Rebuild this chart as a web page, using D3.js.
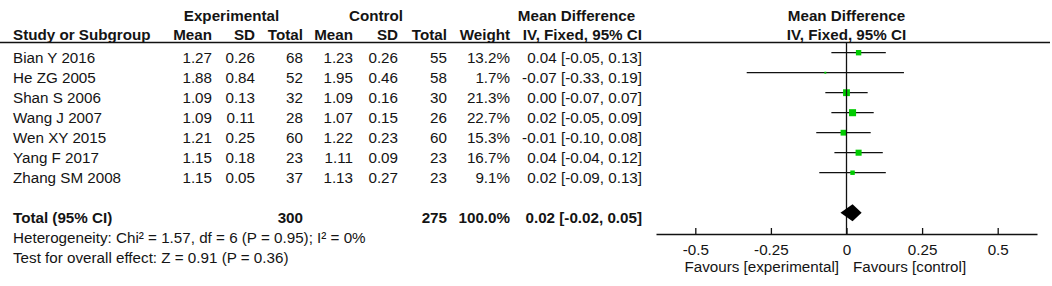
<!DOCTYPE html>
<html>
<head>
<meta charset="utf-8">
<script src="https://cdn.jsdelivr.net/npm/d3@7"></script>
<style>
  body { margin: 0; background: #fff; }
  svg text { font-family: "Liberation Sans", Arial, sans-serif; font-size: 15.2px; fill: #141414; }
</style>
</head>
<body>
<div id="forest"></div>
<script>
// data
const studies   = ["Bian Y 2016", "He ZG 2005", "Shan S 2006", "Wang J 2007", "Wen XY 2015", "Yang F 2017", "Zhang SM 2008"];
const expMean   = [1.27, 1.88, 1.09, 1.09, 1.21, 1.15, 1.15];
const expSD     = [0.26, 0.84, 0.13, 0.11, 0.25, 0.18, 0.05];
const expTotal  = [68, 52, 32, 28, 60, 23, 37];
const ctlMean   = [1.23, 1.95, 1.09, 1.07, 1.22, 1.11, 1.13];
const ctlSD     = [0.26, 0.46, 0.16, 0.15, 0.23, 0.09, 0.27];
const ctlTotal  = [55, 58, 30, 26, 60, 23, 23];
const weight    = [13.2, 1.7, 21.3, 22.7, 15.3, 16.7, 9.1];
const md        = [0.04, -0.07, 0.00, 0.02, -0.01, 0.04, 0.02];
const ciLow     = [-0.05, -0.33, -0.07, -0.05, -0.10, -0.04, -0.09];
const ciHigh    = [0.13, 0.19, 0.07, 0.09, 0.08, 0.12, 0.13];

const total = { exp: 300, ctl: 275, weight: 100.0, md: 0.02, lo: -0.02, hi: 0.05 };
const heterogeneity = "Heterogeneity: Chi² = 1.57, df = 6 (P = 0.95); I² = 0%";
const overallTest = "Test for overall effect: Z = 0.91 (P = 0.36)";
const axisTicks = [-0.5, -0.25, 0, 0.25, 0.5];
const tickLabels = ["-0.5", "-0.25", "0", "0.25", "0.5"];

const width = 1052, height = 286;

const svg = d3.select("#forest")
    .append("svg")
    .attr("width", width)
    .attr("height", height);

// row layout: one band per study, blank row, then the total row
const rowY = d3.scaleLinear().domain([0, 1]).range([52.7, 72.7]);
const xScale = d3.scaleLinear().domain([-0.63, 0.63]).range([656, 1037]);
const axisY = 234;

const rows = studies.map((s, i) => ({
    study: s, em: expMean[i], es: expSD[i], et: expTotal[i],
    cm: ctlMean[i], cs: ctlSD[i], ct: ctlTotal[i],
    w: weight[i], md: md[i], lo: ciLow[i], hi: ciHigh[i], i: i
}));

// plain hyphen minus, like the original table
const fmt2 = d => d.toFixed(2);
const ciText = (m, lo, hi) => `${fmt2(m)} [${fmt2(lo)}, ${fmt2(hi)}]`;

// column right edges
const cols = [
    { key: "em", x: 212, f: fmt2 },
    { key: "es", x: 255, f: fmt2 },
    { key: "et", x: 303, f: d => d },
    { key: "cm", x: 353, f: fmt2 },
    { key: "cs", x: 398, f: fmt2 },
    { key: "ct", x: 447, f: d => d },
    { key: "w",  x: 510, f: d => d.toFixed(1) + "%" }
];

// --- headers ---
const head = svg.append("g").style("font-weight", "bold");
head.append("text").attr("x", 231.5).attr("y", 20.5).attr("text-anchor", "middle").text("Experimental");
head.append("text").attr("x", 376).attr("y", 20.5).attr("text-anchor", "middle").text("Control");
head.append("text").attr("x", 576.5).attr("y", 20.5).attr("text-anchor", "middle").text("Mean Difference");
head.append("text").attr("x", xScale(0)).attr("y", 20.5).attr("text-anchor", "middle").text("Mean Difference");

head.append("text").attr("x", 13).attr("y", 39.5).text("Study or Subgroup");
const subHeads = ["Mean", "SD", "Total", "Mean", "SD", "Total", "Weight"];
head.selectAll(".subhead")
    .data(subHeads)
    .enter()
    .append("text")
    .attr("x", (d, i) => cols[i].x)
    .attr("y", 39.5)
    .attr("text-anchor", "end")
    .text(d => d);
head.append("text").attr("x", 642).attr("y", 39.5).attr("text-anchor", "end").text("IV, Fixed, 95% CI");
head.append("text").attr("x", xScale(0)).attr("y", 39.5).attr("text-anchor", "middle").text("IV, Fixed, 95% CI");

svg.append("line")
    .attr("x1", 0).attr("x2", 1050)
    .attr("y1", 42.5).attr("y2", 42.5)
    .attr("stroke", "#111").attr("stroke-width", 1.3);

// --- study rows ---
const row = svg.selectAll(".row")
    .data(rows)
    .enter()
    .append("g")
    .attr("class", "row");

row.append("text")
    .attr("x", 13)
    .attr("y", d => rowY(d.i) + 10)
    .text(d => d.study);

cols.forEach(c => {
    row.append("text")
        .attr("x", c.x)
        .attr("y", d => rowY(d.i) + 10)
        .attr("text-anchor", "end")
        .text(d => c.f(d[c.key]));
});

row.append("text")
    .attr("x", 642)
    .attr("y", d => rowY(d.i) + 10)
    .attr("text-anchor", "end")
    .text(d => ciText(d.md, d.lo, d.hi));

// --- total row ---
const totalRow = 8;
const tot = svg.append("g").style("font-weight", "bold");
tot.append("text").attr("x", 13).attr("y", rowY(totalRow) + 10).text("Total (95% CI)");
tot.append("text").attr("x", 303).attr("y", rowY(totalRow) + 10).attr("text-anchor", "end").text(total.exp);
tot.append("text").attr("x", 447).attr("y", rowY(totalRow) + 10).attr("text-anchor", "end").text(total.ctl);
tot.append("text").attr("x", 510).attr("y", rowY(totalRow) + 10).attr("text-anchor", "end").text(total.weight.toFixed(1) + "%");
tot.append("text").attr("x", 642).attr("y", rowY(totalRow) + 10).attr("text-anchor", "end").text(ciText(total.md, total.lo, total.hi));

svg.append("text").attr("x", 13).attr("y", rowY(9) + 10).text(heterogeneity);
svg.append("text").attr("x", 13).attr("y", rowY(10) + 10).text(overallTest);

// --- plot ---
// line of no effect
svg.append("line")
    .attr("x1", xScale(0)).attr("x2", xScale(0))
    .attr("y1", 42.5).attr("y2", axisY)
    .attr("stroke", "#111").attr("stroke-width", 1.3);

// confidence intervals
row.append("line")
    .attr("x1", d => xScale(d.lo))
    .attr("x2", d => xScale(d.hi))
    .attr("y1", d => rowY(d.i))
    .attr("y2", d => rowY(d.i))
    .attr("stroke", "#111")
    .attr("stroke-width", 1.3);

// weight squares, area proportional to weight
const side = d3.scaleSqrt().domain([0, 25]).range([0, 7.4]);
row.append("rect")
    .attr("x", d => xScale(d.md) - side(d.w) / 2)
    .attr("y", d => rowY(d.i) - side(d.w) / 2)
    .attr("width", d => side(d.w))
    .attr("height", d => side(d.w))
    .attr("fill", "#00cc00");

// pooled diamond
const dy = rowY(totalRow), dh = 8.5;
svg.append("path")
    .attr("d", `M${xScale(total.lo)},${dy} L${xScale(total.md)},${dy - dh} L${xScale(total.hi)},${dy} L${xScale(total.md)},${dy + dh} Z`)
    .attr("fill", "#000");

// axis with ticks pointing up
const xAxis = d3.axisBottom(xScale)
    .tickValues(axisTicks)
    .tickFormat((d, i) => tickLabels[i])
    .tickSizeInner(-6)
    .tickSizeOuter(0)
    .tickPadding(10);

const axisG = svg.append("g")
    .attr("transform", `translate(0, ${axisY})`)
    .call(xAxis);
axisG.select(".domain").attr("stroke", "#111").attr("stroke-width", 1.3);
axisG.selectAll(".tick line").attr("stroke", "#111").attr("stroke-width", 1.3);
axisG.selectAll(".tick text")
    .attr("fill", "#141414")
    .style("font-family", "\"Liberation Sans\", Arial, sans-serif")
    .style("font-size", "15.2px");

svg.append("text").attr("x", 839).attr("y", 272).attr("text-anchor", "end").text("Favours [experimental]");
svg.append("text").attr("x", 853).attr("y", 272).text("Favours [control]");
</script>
</body>
</html>
